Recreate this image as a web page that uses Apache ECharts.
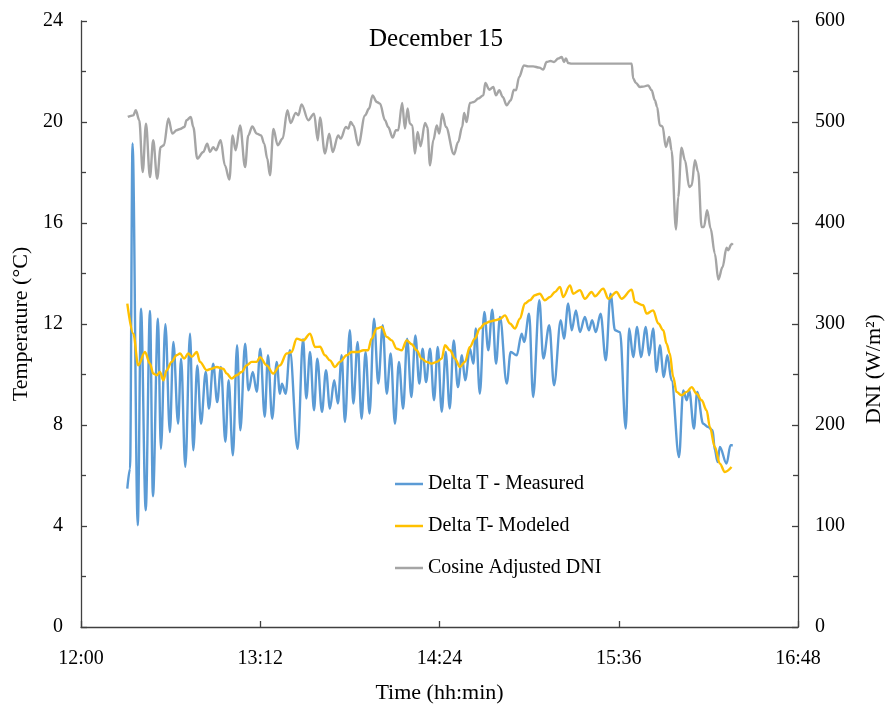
<!DOCTYPE html>
<html>
<head>
<meta charset="utf-8">
<title>December 15</title>
<script src="https://cdn.jsdelivr.net/npm/echarts@6/dist/echarts.min.js"></script>
<style>
  html, body { margin: 0; padding: 0; background: #fff; }
  #chart { width: 896px; height: 706px; }
</style>
</head>
<body>
<div id="chart"></div>
<script>
// Times are minutes after 12:00; temperatures in °C, DNI in W/m².
const measuredTime = [18.6, 19.7, 20.7, 22.8, 24.1, 26.0, 27.7, 28.9, 30.9, 32.1, 33.9, 35.7, 37.1, 39.0, 40.2, 41.9, 43.8, 45.1, 46.7, 48.2,
  50.1, 51.4, 53.1, 54.7, 56.2, 58.0, 59.3, 61.0, 62.7, 64.0, 65.9, 67.3, 69.0, 70.6, 72.0, 73.8, 75.1, 76.8, 78.6, 79.9,
  80.7, 82.2, 83.9, 87.0, 89.2, 90.5, 92.0, 93.6, 94.9, 96.8, 98.4, 100.0, 101.7, 103.2, 104.7, 106.0, 108.0, 109.4, 111.1, 112.7,
  114.3, 115.9, 117.7, 119.4, 121.2, 122.8, 124.4, 126.1, 127.7, 129.4, 131.0, 132.7, 134.3, 135.9, 137.2, 138.6, 140.2, 141.8, 143.3, 144.9,
  146.5, 148.1, 149.7, 151.4, 153.0, 154.3, 156.2, 157.6, 158.6, 160.2, 162.0, 163.6, 165.2, 166.7, 168.3, 171.0, 172.6, 175.0, 177.0, 178.0,
  180.0, 181.6, 184.1, 185.7, 188.1, 190.0, 192.7, 194.0, 195.7, 197.1, 198.8, 200.4, 202.4, 204.0, 205.3, 206.8, 208.7, 210.8, 212.7, 214.5,
  216.5, 218.8, 220.2, 221.8, 223.4, 224.9, 226.9, 228.2, 229.8, 231.2, 232.5, 234.1, 235.5, 237.2, 240.2, 241.9, 243.3, 244.3, 246.2, 247.5,
  249.9, 251.9, 253.7, 254.6, 255.7, 256.6, 259.3, 260.9, 261.8];
const measuredTemp = [5.48, 6.27, 19.15, 4.03, 12.61, 4.62, 12.52, 5.18, 12.21, 7.06, 11.99, 7.72, 11.29, 8.05, 10.63, 6.34, 11.62, 7.0, 10.36, 8.05,
  10.1, 8.65, 10.43, 8.91, 10.3, 7.33, 9.77, 6.8, 11.16, 7.79, 11.22, 9.37, 10.1, 9.31, 11.02, 8.32, 10.76, 8.25, 10.5, 9.24,
  9.64, 9.24, 10.96, 7.06, 11.4, 9.05, 10.89, 8.58, 10.63, 8.52, 10.17, 8.65, 9.77, 8.85, 10.76, 8.12, 11.75, 8.85, 11.29, 8.25,
  10.89, 8.45, 12.21, 9.64, 11.95, 9.24, 10.83, 8.05, 10.5, 8.65, 11.42, 9.11, 11.55, 9.64, 11.02, 9.7, 11.02, 8.98, 11.09, 8.52,
  10.89, 8.65, 11.35, 9.5, 10.76, 9.77, 11.02, 10.43, 11.82, 9.24, 12.48, 10.96, 12.57, 10.43, 12.28, 9.64, 10.89, 10.76, 11.62, 11.29,
  12.41, 9.11, 12.94, 10.63, 11.95, 9.57, 12.15, 11.42, 12.81, 11.75, 12.54, 11.68, 12.28, 11.75, 12.15, 11.68, 12.41, 10.56, 13.2, 11.75,
  11.68, 7.86, 11.82, 10.69, 11.88, 10.69, 11.88, 10.76, 11.82, 10.1, 11.16, 9.9, 10.76, 9.77, 6.73, 9.37, 8.98, 9.37, 7.86, 9.31,
  8.05, 7.92, 7.79, 7.0, 6.53, 7.13, 6.47, 7.2, 7.2];

const modeledTime = [18.6, 21.0, 23.0, 25.7, 27.7, 29.0, 30.4, 31.7, 33.1, 34.4, 36.4, 38.4, 39.8, 41.4, 43.1, 44.5, 46.5, 47.8, 50.5, 52.5,
  54.5, 57.1, 58.5, 60.5, 62.5, 64.5, 66.5, 68.6, 70.6, 71.9, 74.6, 77.2, 79.9, 82.6, 84.6, 86.6, 89.3, 92.0, 94.0, 96.0,
  98.0, 100.0, 102.0, 104.0, 106.7, 108.7, 111.2, 113.4, 115.3, 116.7, 118.8, 120.8, 122.8, 124.8, 126.8, 128.8, 130.8, 132.8, 134.8, 136.8,
  138.8, 140.8, 142.9, 144.9, 146.2, 148.2, 150.2, 152.2, 154.2, 156.2, 158.2, 160.2, 162.2, 164.3, 166.3, 168.3, 170.3, 172.3, 174.3, 176.3,
  178.3, 180.3, 182.3, 184.3, 186.3, 188.4, 190.4, 192.4, 193.7, 196.4, 197.7, 200.4, 202.4, 205.1, 206.4, 209.8, 211.8, 215.1, 217.1, 221.2,
  222.5, 225.8, 227.2, 229.8, 231.9, 233.9, 235.2, 236.5, 237.9, 239.2, 241.2, 243.3, 245.3, 247.3, 249.3, 251.3, 252.6, 254.6, 256.6, 258.6,
  261.3];
const modeledTemp = [12.81, 11.62, 10.36, 10.89, 10.43, 10.04, 9.97, 10.1, 9.77, 10.17, 10.5, 10.76, 10.83, 10.63, 10.83, 10.7, 10.89, 10.5, 10.17, 10.23,
  10.3, 10.23, 10.04, 9.84, 9.97, 10.1, 10.36, 10.5, 10.5, 10.69, 10.36, 10.04, 10.36, 10.83, 10.89, 11.42, 11.35, 11.62, 11.09, 11.1,
  10.76, 10.56, 10.3, 10.5, 10.76, 10.89, 10.89, 10.96, 10.96, 11.42, 11.82, 11.88, 11.49, 11.35, 11.02, 10.96, 11.35, 11.2, 10.96, 10.63,
  10.5, 10.43, 10.5, 10.63, 11.16, 10.96, 10.63, 10.3, 10.5, 11.09, 11.42, 11.82, 12.02, 12.1, 12.15, 12.2, 12.34, 12.02, 11.82, 12.21,
  12.81, 12.94, 13.14, 13.2, 12.94, 13.07, 13.27, 13.47, 13.07, 13.53, 13.2, 13.34, 13.0, 13.27, 13.1, 13.4, 13.0, 13.27, 13.0, 13.36,
  12.87, 12.74, 12.41, 12.54, 12.02, 11.75, 11.22, 10.83, 9.9, 9.31, 9.18, 9.31, 9.5, 9.24, 8.98, 8.58, 7.92, 7.13, 6.47, 6.14,
  6.34];

const dniTime = [18.8, 21.0, 22.0, 23.4, 24.8, 26.1, 27.7, 29.0, 30.6, 32.0, 33.3, 35.1, 36.7, 38.4, 39.8, 41.5, 42.4, 44.1, 45.1, 46.7,
  49.1, 50.7, 51.8, 53.1, 54.2, 56.1, 57.8, 59.6, 60.9, 62.1, 63.9, 65.9, 67.2, 68.8, 70.6, 72.3, 73.6, 74.8, 75.9, 77.3,
  79.0, 81.0, 82.9, 84.2, 86.3, 87.3, 88.6, 91.3, 93.6, 95.1, 96.0, 98.0, 99.7, 101.1, 103.3, 104.3, 106.4, 107.4, 108.3, 109.4,
  111.4, 114.1, 115.7, 117.1, 118.8, 120.1, 122.1, 123.4, 125.2, 126.5, 127.4, 129.0, 130.1, 131.2, 132.1, 133.1, 134.1, 135.2, 136.4, 138.2,
  139.1, 140.2, 141.5, 142.9, 143.9, 145.1, 146.6, 149.8, 151.5, 153.1, 153.9, 154.9, 156.2, 157.8, 159.6, 161.6, 162.4, 164.0, 165.6, 166.7,
  168.0, 169.4, 171.0, 172.6, 173.9, 174.7, 176.0, 177.9, 179.6, 181.6, 184.1, 185.7, 187.0, 188.6, 190.0, 191.7, 193.1, 194.0, 194.8, 195.7,
  197.1, 221.2, 221.8, 222.9, 224.5, 225.8, 227.8, 229.2, 230.5, 231.4, 232.5, 233.6, 234.9, 236.3, 237.2, 239.0, 239.9, 241.2, 242.6, 244.3,
  245.3, 246.6, 247.9, 249.3, 250.2, 251.5, 252.9, 254.6, 256.0, 257.7, 259.3, 259.9, 261.3, 261.8];
const dniValue = [505, 506.6, 511.6, 501.7, 450.5, 498.4, 445.5, 481.9, 444, 475.2, 477, 503.4, 488.5, 491.8, 493, 495, 501.7, 505, 495, 463.8,
  470.3, 478.6, 470.3, 475, 472, 481.9, 457.1, 443, 486.8, 472, 496.7, 455.4, 486.8, 495.7, 488.5, 486.8, 478.6, 463.8, 447.2, 493,
  477, 483.6, 511.6, 499, 509, 506.6, 517.5, 501.7, 508.3, 481.9, 504.4, 468.7, 488.5, 470.3, 486.8, 483.6, 495, 493.5, 500, 496.7,
  477, 506.6, 513.3, 526.4, 519.8, 518.2, 501.7, 495, 484.5, 491.8, 491.8, 518.8, 493.5, 513.3, 498.4, 496.7, 468.7, 490.1, 476, 499,
  495, 457.1, 481.9, 496.7, 488.5, 508.3, 495, 468, 480.2, 495, 509, 500, 518.8, 519.8, 523.2, 526.4, 538.6, 532, 534.7, 526.4,
  531.4, 524.8, 516.5, 521.5, 532, 531.4, 544.6, 556.1, 555.1, 555.1, 553.8, 551.9, 559.4, 560.4, 559.4, 562.8, 564.4, 559.4, 562.8, 558.4,
  557.8, 557.8, 543, 538.6, 534.7, 535, 536.3, 531.4, 521.5, 514.9, 496.7, 495.7, 475.2, 485.1, 472, 393.5, 425.7, 474.6, 462.1, 435.6,
  437.3, 462.1, 450.5, 396, 396, 412.6, 394.5, 369.7, 344, 356.4, 375.6, 373, 378.9, 380];

const seriesNames = ['Delta T - Measured', 'Delta T- Modeled', 'Cosine Adjusted DNI'];
const seriesColors = ['#5B9BD5', '#FFC000', '#A5A5A5'];

const FONT = "'Liberation Serif', 'Times New Roman', serif";
const AXIS_COLOR = '#404040';

function pairs(xs, ys) {
  return xs.map((x, i) => [x, ys[i]]);
}
function clock(min) {
  const h = 12 + Math.floor(min / 60);
  const m = Math.round(min % 60);
  return h + ':' + (m < 10 ? '0' + m : m);
}

const chart = echarts.init(document.getElementById('chart'), null, { renderer: 'canvas' });

const yAxisCommon = {
  type: 'value',
  nameLocation: 'middle',
  nameRotate: 90,
  nameTextStyle: { fontFamily: FONT, fontSize: 22, color: '#000' },
  axisLine: { show: true, lineStyle: { color: AXIS_COLOR, width: 1.3 } },
  axisTick: { show: true, inside: true, length: 6, lineStyle: { color: AXIS_COLOR, width: 1.3 } },
  minorTick: { show: true, splitNumber: 2, length: 5, lineStyle: { color: AXIS_COLOR, width: 1.3 } },
  splitLine: { show: false },
  axisLabel: { fontFamily: FONT, fontSize: 20, color: '#000' }
};

function lineSeries(i, xs, ys, axisIndex) {
  return {
    name: seriesNames[i], type: 'line', yAxisIndex: axisIndex,
    data: pairs(xs, ys),
    symbol: 'none', smooth: 0.35, smoothMonotone: 'x',
    lineStyle: { color: seriesColors[i], width: 2.4 },
    itemStyle: { color: seriesColors[i] }
  };
}

const option = {
  animation: false,
  backgroundColor: '#fff',
  title: {
    text: 'December 15',
    left: 364,
    top: 22,
    textStyle: { fontFamily: FONT, fontSize: 25, fontWeight: 'normal', color: '#000' }
  },
  grid: { left: 81, right: 98, top: 21, bottom: 79, containLabel: false, outerBoundsMode: 'none' },
  legend: {
    orient: 'vertical',
    left: 390,
    top: 469,
    icon: 'rect',
    itemWidth: 28,
    itemHeight: 2.5,
    itemGap: 22,
    textStyle: { fontFamily: FONT, fontSize: 20, color: '#000', lineHeight: 20 },
    data: seriesNames
  },
  xAxis: {
    type: 'value',
    min: 0,
    max: 288,
    interval: 72,
    name: 'Time (hh:min)',
    nameLocation: 'middle',
    nameGap: 55,
    nameTextStyle: { fontFamily: FONT, fontSize: 22, color: '#000' },
    axisLine: { show: true, onZero: false, lineStyle: { color: AXIS_COLOR, width: 1.3 } },
    axisTick: { show: true, inside: true, length: 6, lineStyle: { color: AXIS_COLOR, width: 1.3 } },
    splitLine: { show: false },
    axisLabel: { fontFamily: FONT, fontSize: 20, color: '#000', margin: 22, formatter: clock }
  },
  yAxis: [
    Object.assign({}, yAxisCommon, {
      min: 0, max: 24, interval: 4,
      position: 'left',
      name: 'Temperature (°C)',
      nameGap: 46,
      axisLabel: Object.assign({}, yAxisCommon.axisLabel, { margin: 18 })
    }),
    Object.assign({}, yAxisCommon, {
      min: 0, max: 600, interval: 100,
      position: 'right',
      name: 'DNI (W/m²)',
      nameGap: 65,
      nameTextStyle: Object.assign({}, yAxisCommon.nameTextStyle, { padding: [0, 90, 0, 0] }),
      axisLabel: Object.assign({}, yAxisCommon.axisLabel, { margin: 17 })
    })
  ],
  series: [
    lineSeries(0, measuredTime, measuredTemp, 0),
    lineSeries(1, modeledTime, modeledTemp, 0),
    lineSeries(2, dniTime, dniValue, 1)
  ]
};

chart.setOption(option);
</script>
</body>
</html>
